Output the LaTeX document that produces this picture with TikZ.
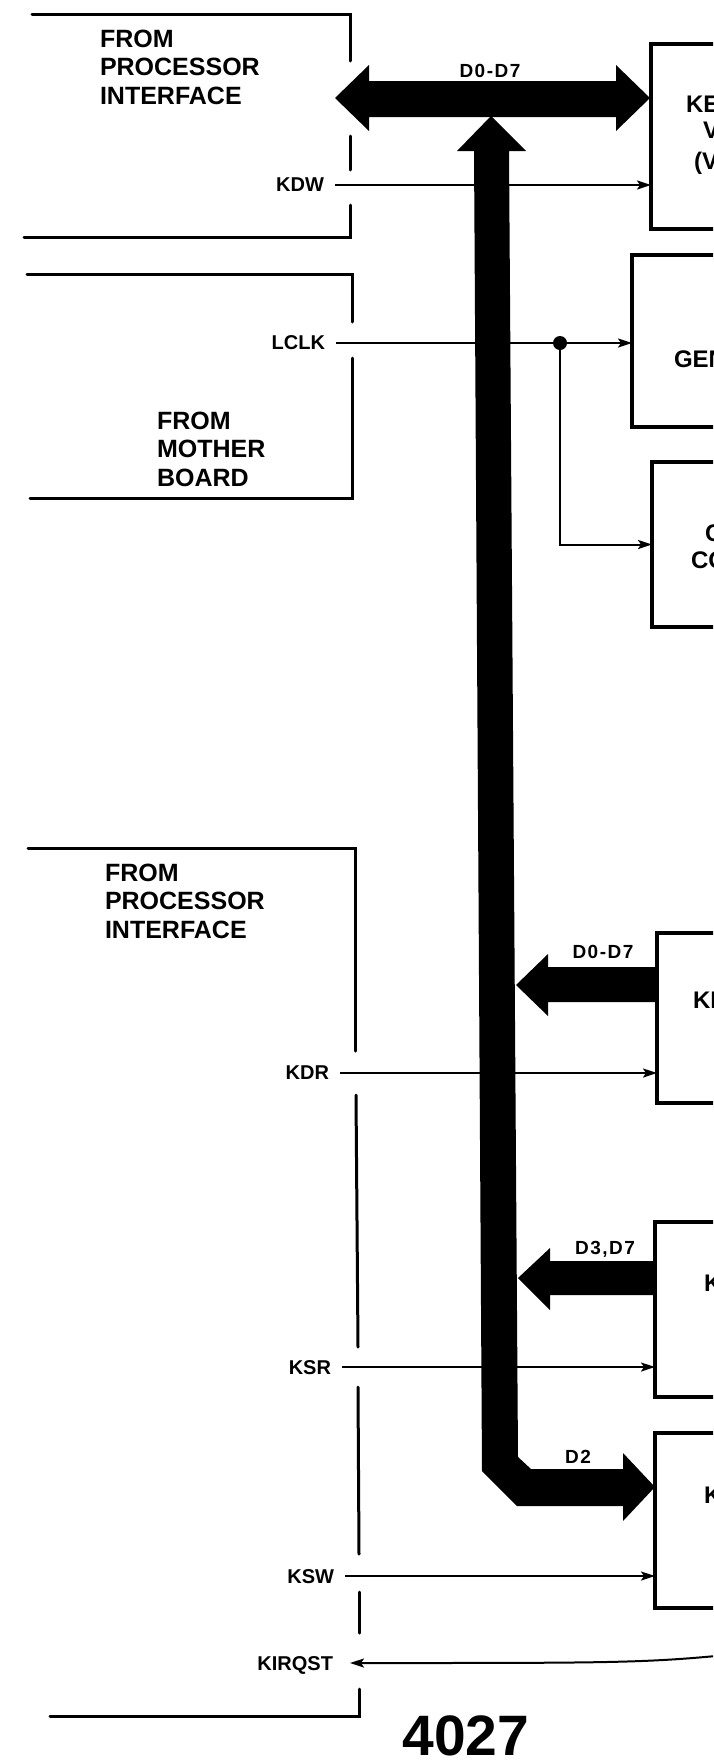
\documentclass[tikz,border=0pt]{standalone}
\usepackage{fontspec}
\setmainfont{Liberation Sans}
\usetikzlibrary{arrows.meta, calc}
\tikzset{
  every picture/.style={x=1pt, y=-1pt, line width=2pt},
  blk/.style={draw, line width=3.5pt, outer sep=0pt, inner sep=0pt, anchor=north west, minimum width=220pt},
  sig/.style={-{Stealth[length=14pt, width=9pt, inset=3pt]}, line width=2pt},
  sigl/.style={font=\fontsize{20}{23}\selectfont\bfseries, anchor=east, inner sep=0pt, outer xsep=11pt, text depth=0pt},
  brk/.style={line width=3pt, line cap=round},
  grp/.style={font=\fontsize{25}{28.5}\selectfont\bfseries, align=left, anchor=north west, inner sep=0pt},
  frag/.style={font=\fontsize{24}{28}\selectfont\bfseries, anchor=base west, inner sep=0pt},
  busl/.style={font=\fontsize{19}{21}\selectfont\bfseries\addfontfeatures{LetterSpace=8}, inner sep=0pt, text depth=0pt},
  bus/.style={fill=black, draw=none},
  dot/.style={circle, fill=black, inner sep=0pt, minimum size=14pt},
}
\begin{document}
\begin{tikzpicture}
  \fill[white, use as bounding box] (0,0) rectangle (713,1764);
  \clip (0,0) rectangle (713,1764);
  \draw[brk] (32,14) -- (350,14) -- (350,61);
  \draw[brk] (350,136) -- (350,170);
  \draw[brk] (350,205) -- (350,237) -- (24,237);
  \draw[brk] (27,274) -- (352,274) -- (352,322);
  \draw[brk] (352,358) -- (352,498) -- (30,498);
  \draw[brk] (28,848) -- (355,848) -- (355,1051);
  \draw[brk] (356,1095) -- (358,1347);
  \draw[brk] (358,1387) -- (359,1554);
  \draw[brk] (359,1592) -- (359,1633);
  \draw[brk] (359,1689) -- (359,1716) -- (50,1716);
  \node[grp] (fpia) at (99,29)   {FROM\\PROCESSOR\\INTERFACE};
  \node[grp] (fmb)  at (156,411) {FROM\\MOTHER\\BOARD};
  \node[grp] (fpib) at (104,863) {FROM\\PROCESSOR\\INTERFACE};
  \node[blk, minimum height=185pt] (kbwr) at (651,44)   {};
  \node[blk, minimum height=172pt] (kgen) at (632,255)  {};
  \node[blk, minimum height=165pt] (kctl) at (652,462)  {};
  \node[blk, minimum height=170pt] (kbrd) at (657,933)  {};
  \node[blk, minimum height=175pt] (kstr) at (655,1222) {};
  \node[blk, minimum height=175pt] (kstw) at (655,1433) {};
  \node[frag] (kbwra) at (685,112) {KE};
  \node[frag] (kbwrb) at (702,138) {V};
  \node[frag] (kbwrc) at (693,169) {(V};
  \node[frag] (kgena) at (673,367) {GEN};
  \node[frag] (kctla) at (704,541) {C};
  \node[frag] (kctlb) at (690,568) {CO};
  \node[frag] (kbrda) at (692,1008) {KE};
  \node[frag] (kstra) at (703,1291) {K};
  \node[frag] (kstwa) at (703,1503) {K};
  \node[sigl] (kdw)  at (335,185)  {KDW};
  \node[sigl] (lclk) at (336,343)  {LCLK};
  \node[sigl] (kdr)  at (340,1073) {KDR};
  \node[sigl] (ksr)  at (342,1367) {KSR};
  \node[sigl] (ksw)  at (345,1576) {KSW};
  \node[sigl, outer xsep=17pt] (kirq) at (350,1663) {KIRQST};
  \coordinate (irq) at (716,1656);
  \node[dot] (jn) at (560,343) {};
  \foreach \a/\b in {kdw/kbwr, lclk/kgen, kdr/kbrd, ksr/kstr, ksw/kstw} \draw[sig] (\a.east) -- (\a.east -| \b.west);
  \draw[sig] (jn.center) |- (kctl.west);
  \draw[sig] (irq) .. controls (640,1663) and (600,1663) .. (kirq.east);
  \fill[bus] (335,98) -- (369,65) -- (369,81) -- (616,81) -- (616,65) -- (650,98) -- (616,131) -- (616,117) -- (369,117) -- (369,131) -- cycle;
  \fill[bus] (491,116) -- (526,151) -- (509,151) -- (518,1457) -- (531,1469) -- (623,1469) -- (623,1453) -- (655,1487) -- (623,1521) -- (623,1506) -- (517,1506) -- (482,1471) -- (474,151) -- (457,151) -- cycle;
  \fill[bus] (516,985) -- (548,954) -- (548,967) -- (657,967) -- (657,1002) -- (548,1002) -- (548,1016) -- cycle;
  \fill[bus] (518,1278) -- (550,1248) -- (550,1261) -- (655,1261) -- (655,1295) -- (550,1295) -- (550,1310) -- cycle;
  \node[busl] (dtop) at (490,71)   {D0-D7};
  \node[busl] (drd)  at (603,952)  {D0-D7};
  \node[busl] (dst)  at (605,1248) {D3,D7};
  \node[busl] (dtwo) at (578,1457) {D2};
  \node[font=\fontsize{57}{60}\selectfont\bfseries, inner sep=0pt, text depth=0pt] (fig) at (466,1736) {4027};
\end{tikzpicture}
\end{document}
